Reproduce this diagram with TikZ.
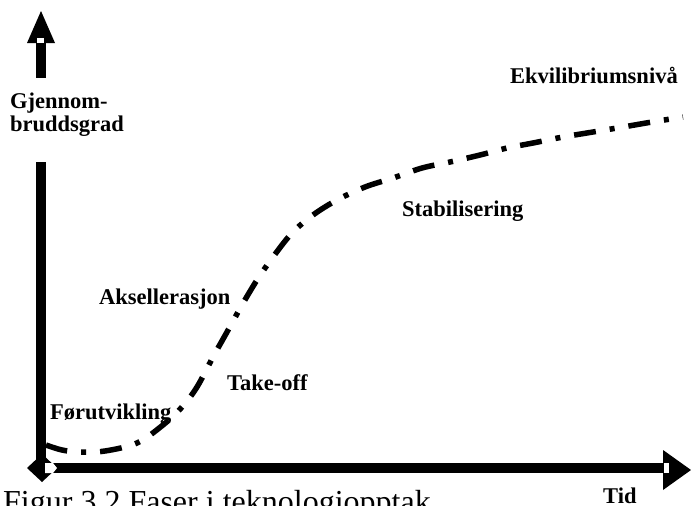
\documentclass[tikz,border=0pt]{standalone}
\usepackage{fontspec}
\setmainfont{Liberation Serif}
\tikzset{
  axisline/.style={line width=10pt, line cap=butt},
  head/.style={fill=black, draw=none},
  notch/.style={fill=white, draw=none},
  phase/.style={font=\fontsize{22.5}{23}\selectfont\bfseries, inner sep=0pt, anchor=base west},
  curve/.style={line width=5.5pt, dash pattern=on 22pt off 14pt on 5pt off 14pt},
}
\begin{document}
\begin{tikzpicture}[x=1pt, y=-1pt]
  \path[use as bounding box] (0,0) rectangle (691,506);
  \clip (0,0) rectangle (691,506);

  % axis geometry
  \coordinate (O)    at (41,468);
  \coordinate (ytop) at (41,78);
  \coordinate (ybase) at (41,43);
  \coordinate (ygapA) at (41,162);
  \coordinate (xend) at (663,468);

  % vertical axis: shaft interrupted by its label
  \draw[axisline] (ybase) -- (ytop);
  \draw[axisline] (ygapA) -- (O);
  \fill[head] (41,11) -- (55,43) -- (27,43) -- cycle;
  \fill[notch] (37,38) rectangle (44,43);

  % horizontal axis
  \draw[axisline] (O) -- (xend);
  \fill[head] (691,470) -- (663,450) -- (663,490) -- cycle;
  \fill[notch] (664,463) rectangle (669,473);

  % origin marker
  \fill[head] (27,468) -- (42,454) -- (57,468) -- (42,482) -- cycle;
  \fill[notch] (45,463) -- (53,463) -- (57,468) -- (53,473) -- (45,473) -- cycle;

  % diffusion curve
  \draw[curve] plot[smooth, tension=0.55] coordinates {
    (46,445) (62,450) (80,452) (105,451) (137,443) (163,425) (182,407)
    (197,387) (213,357) (227,332) (242,305) (257,280) (273,257) (292,233)
    (313,215) (337,200) (365,187) (393,178) (422,168) (450,162) (480,155)
    (507,148) (533,143) (563,137) (593,132) (623,127) (652,122) (683,117)};

  % labels
  \node[phase] (ylab1) at (10,108) {Gjennom-};
  \node[phase] (ylab2) at (10,131) {bruddsgrad};
  \node[phase] (forut) at (50,419) {Førutvikling};
  \node[phase] (take)  at (227,390) {Take-off};
  \node[phase] (aksel) at (99,304) {Aksellerasjon};
  \node[phase] (stab)  at (402,216) {Stabilisering};
  \node[phase] (ekvi)  at (510,83) {Ekvilibriumsnivå};
  \node[phase] (tid)   at (603,503) {Tid};
  \node[font=\fontsize{32}{34}\selectfont, inner sep=0pt, anchor=base west] (cap) at (3,512) {Figur 3.2 Faser i teknologiopptak};
\end{tikzpicture}
\end{document}
